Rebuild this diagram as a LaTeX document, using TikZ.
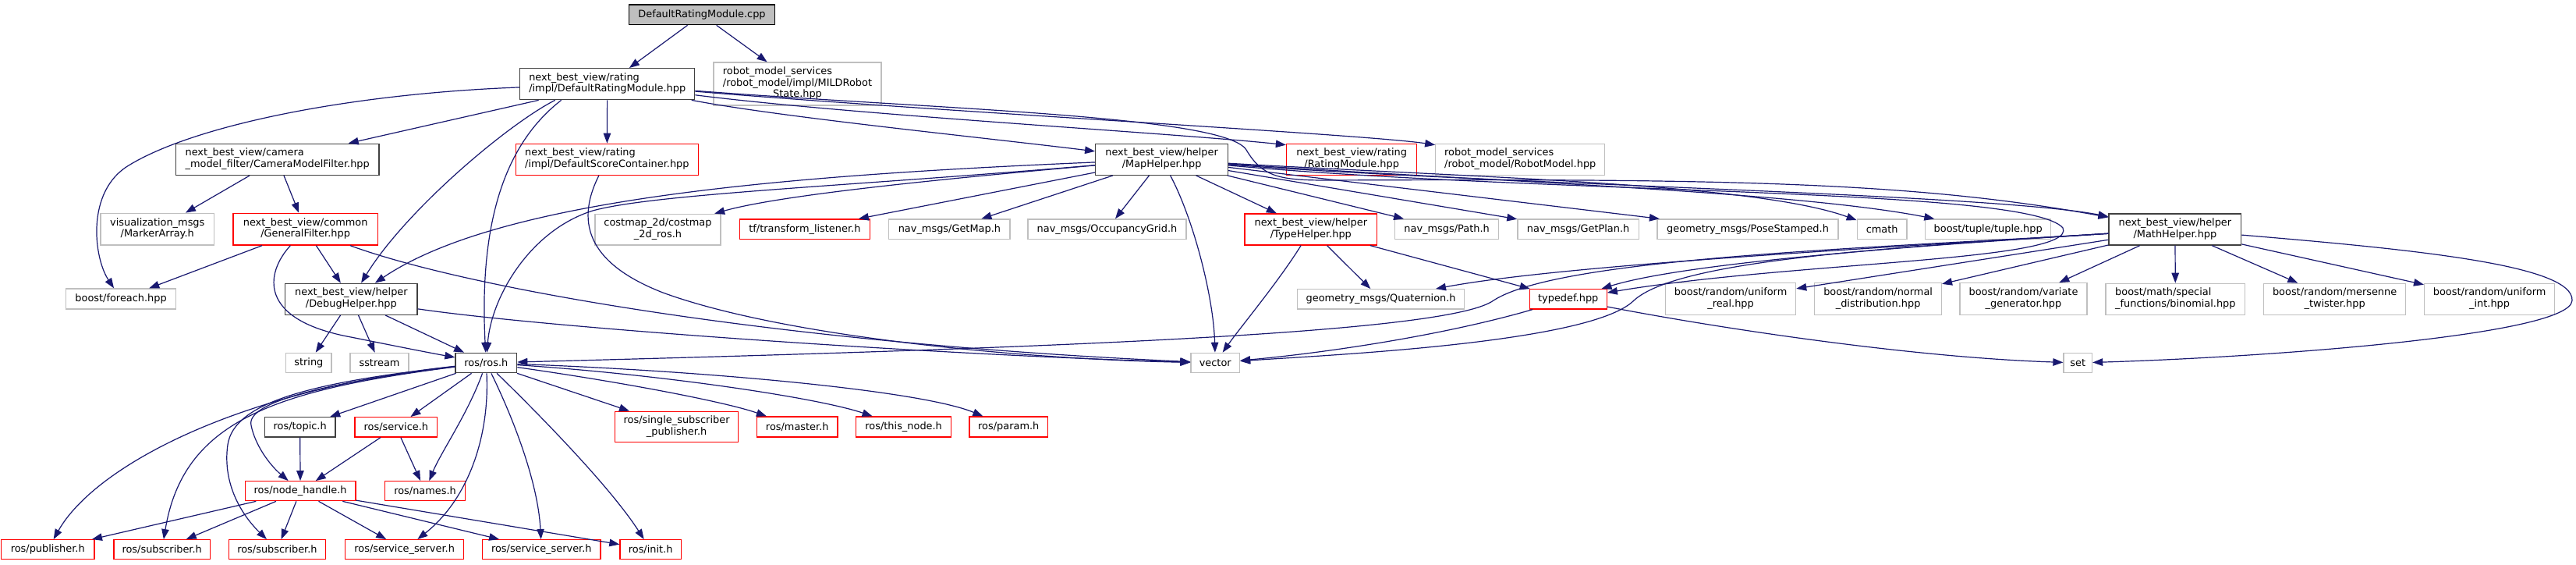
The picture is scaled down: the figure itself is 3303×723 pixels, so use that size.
\documentclass[tikz,border=0pt]{standalone}
\usepackage{fontspec}
\setmainfont{DejaVu Sans}
\usetikzlibrary{arrows.meta}
\definecolor{edgec}{HTML}{191970}
\definecolor{grayb}{HTML}{BFBFBF}
\definecolor{blackb}{HTML}{404040}
\newcommand\ml[2]{\begin{tabular}{@{}l@{}}#1\\\multicolumn{1}{@{}c@{}}{#2}\end{tabular}}
\newcommand\bx[7]{%
 \pgfmathsetmacro\bxcx{(#3+#5)/2}%
 \pgfmathsetmacro\bxcy{(#4+#6)/2}%
 \pgfmathsetmacro\bxw{#5-#3}%
 \pgfmathsetmacro\bxh{#6-#4}%
 \node[#1,minimum width=\bxw pt,minimum height=\bxh pt] (#2) at (\bxcx,\bxcy) {#7};}
\begin{document}
\begin{tikzpicture}[x=1pt,y=-1pt,font=\fontsize{12.9}{14.4}\selectfont,
 box/.style={draw,line width=1.3pt,inner sep=0pt,fill=white},
 kb/.style={box,draw=blackb},
 rb/.style={box,draw=red},
 gb/.style={box,draw=grayb},
 rootb/.style={box,draw=black,fill=grayb},
 dep/.style={draw=edgec,line width=1.2pt,-{Triangle[length=13pt,width=9.5pt]}}]
\useasboundingbox[fill=white] (0,0) rectangle (3303,723);
% nodes
\bx{rootb}{cpp}{806.7}{6}{993.3}{31.7}{DefaultRatingModule.cpp}
\bx{kb}{drm}{666.7}{87.7}{890.7}{127.7}{\ml{next\_best\_view/rating}{/impl/DefaultRatingModule.hpp}}
\bx{gb}{mild}{915}{80}{1130}{135}{\ml{robot\_model\_services\\/robot\_model/impl/MILDRobot}{State.hpp}}
\bx{kb}{cam}{225.4}{184.3}{486}{224.3}{\ml{next\_best\_view/camera}{\_model\_filter/CameraModelFilter.hpp}}
\bx{rb}{dsc}{661.2}{184.3}{895.5}{224.3}{\ml{next\_best\_view/rating}{/impl/DefaultScoreContainer.hpp}}
\bx{kb}{map}{1404.7}{184.3}{1574.5}{224.3}{\ml{next\_best\_view/helper}{/MapHelper.hpp}}
\bx{rb}{rmod}{1649.5}{184.3}{1816.8}{224.3}{\ml{next\_best\_view/rating}{/RatingModule.hpp}}
\bx{gb}{robm}{1840.8}{184.3}{2057.7}{224.3}{\ml{robot\_model\_services}{/robot\_model/RobotModel.hpp}}
\bx{gb}{marker}{129}{273.3}{274.5}{314}{\ml{visualization\_msgs}{/MarkerArray.h}}
\bx{rb}{gf}{299}{273.3}{484.3}{314}{\ml{next\_best\_view/common}{/GeneralFilter.hpp}}
\bx{gb}{costmap}{763}{274.3}{924}{314}{\ml{costmap\_2d/costmap}{\_2d\_ros.h}}
\bx{rb}{tf}{948.2}{281}{1115.6}{306.7}{tf/transform\_listener.h}
\bx{gb}{getmap}{1139.7}{281}{1295.1}{306.7}{nav\_msgs/GetMap.h}
\bx{gb}{occ}{1318}{281}{1520.9}{306.7}{nav\_msgs/OccupancyGrid.h}
\bx{rb}{typeh}{1595.9}{274}{1765.8}{314}{\ml{next\_best\_view/helper}{/TypeHelper.hpp}}
\bx{gb}{path}{1788.8}{281}{1921.4}{306.7}{nav\_msgs/Path.h}
\bx{gb}{getplan}{1945.9}{281}{2101.3}{306.7}{nav\_msgs/GetPlan.h}
\bx{gb}{pose}{2125}{281}{2357.1}{306.7}{geometry\_msgs/PoseStamped.h}
\bx{gb}{cmath}{2381.3}{281}{2445}{306.7}{cmath}
\bx{gb}{tuple}{2468.8}{281}{2629.5}{306.7}{boost/tuple/tuple.hpp}
\bx{kb}{math}{2704.1}{274}{2873.7}{314}{\ml{next\_best\_view/helper}{/MathHelper.hpp}}
\bx{gb}{foreach}{84.8}{370}{225.4}{396}{boost/foreach.hpp}
\bx{kb}{debug}{365.7}{363.3}{535.1}{403.3}{\ml{next\_best\_view/helper}{/DebugHelper.hpp}}
\bx{gb}{quat}{1663.5}{370.7}{1877.8}{396}{geometry\_msgs/Quaternion.h}
\bx{rb}{typedef}{1961.3}{370.7}{2060.2}{396}{typedef.hpp}
\bx{gb}{ureal}{2135.5}{362.7}{2302.6}{403.3}{\ml{boost/random/uniform}{\_real.hpp}}
\bx{gb}{normal}{2326.8}{362.7}{2489.4}{403.3}{\ml{boost/random/normal}{\_distribution.hpp}}
\bx{gb}{variate}{2513}{362.7}{2676}{403.3}{\ml{boost/random/variate}{\_generator.hpp}}
\bx{gb}{binom}{2700}{363.3}{2878.7}{403.3}{\ml{boost/math/special}{\_functions/binomial.hpp}}
\bx{gb}{mersenne}{2902.8}{363.3}{3084.4}{403.3}{\ml{boost/random/mersenne}{\_twister.hpp}}
\bx{gb}{uint}{3108.6}{363.3}{3275.6}{403.3}{\ml{boost/random/uniform}{\_int.hpp}}
\bx{gb}{string}{366.7}{452.3}{425}{477.7}{string}
\bx{gb}{sstream}{449}{452.3}{524}{477.7}{sstream}
\bx{kb}{ros}{584}{452.3}{662.7}{477.7}{ros/ros.h}
\bx{gb}{vector}{1527}{452.3}{1589.5}{477.7}{vector}
\bx{gb}{set}{2646}{452.3}{2682.5}{477.7}{set}
\bx{kb}{topic}{339.3}{534.7}{430}{560}{ros/topic.h}
\bx{rb}{service}{455}{534.7}{560.7}{560}{ros/service.h}
\bx{rb}{ssp}{788.5}{527.3}{946.7}{566.7}{\ml{ros/single\_subscriber}{\_publisher.h}}
\bx{rb}{master}{970.5}{534}{1074}{560}{ros/master.h}
\bx{rb}{thisnode}{1097.8}{534}{1219.5}{560}{ros/this\_node.h}
\bx{rb}{param}{1243}{534}{1343.5}{560}{ros/param.h}
\bx{rb}{nh}{314.3}{616.7}{455.9}{641.7}{ros/node\_handle.h}
\bx{rb}{names}{493.4}{616.7}{596.7}{641.7}{ros/names.h}
\bx{rb}{pub}{1.5}{691.7}{121}{716.7}{ros/publisher.h}
\bx{rb}{sub1}{145.9}{691.7}{269.5}{716.7}{ros/subscriber.h}
\bx{rb}{sub2}{293.3}{691.7}{417.6}{716.7}{ros/subscriber.h}
\bx{rb}{ss1}{442.5}{691.7}{594.8}{716.7}{ros/service\_server.h}
\bx{rb}{ss2}{618.6}{691.7}{770}{716.7}{ros/service\_server.h}
\bx{rb}{init}{795}{691.7}{873.3}{716.7}{ros/init.h}
% edges
\draw[dep] (cpp) -- (drm);
\draw[dep] (cpp) -- (mild);
\draw[dep] ([xshift=-88pt]drm.south) -- (cam);
\draw[dep] (drm) -- (dsc);
\draw[dep] (drm) .. controls (450,120) and (250,160) .. (165,212) .. controls (110,245) and (120,330) .. (foreach);
\draw[dep] ([xshift=-67pt]drm.south) .. controls (650,160) and (520,270) .. (debug);
\draw[dep] ([xshift=-59pt]drm.south) .. controls (640,190) and (615,300) .. (ros);
\draw[dep] (drm) .. controls (1000,150) and (1250,175) .. (map);
\draw[dep] (drm) .. controls (1100,148) and (1500,170) .. ([yshift=-2pt]rmod.north west);
\draw[dep] (drm) .. controls (1200,143) and (1750,172) .. ([yshift=-2pt]robm.north west);
\draw[dep] (drm) .. controls (1200,140) and (1570,148) .. (1598,192) .. controls (1618,226) and (1640,231) .. (1700,231) .. controls (2200,229) and (2450,232) .. (math);
% MapHelper
\draw[dep] (map) .. controls (1000,225) and (640,255) .. (debug);
\draw[dep] (map) .. controls (1100,238) and (840,248) .. (760,270) .. controls (680,295) and (630,380) .. (ros);
\draw[dep] (map) .. controls (1200,230) and (1000,250) .. (costmap);
\draw[dep] (map) -- (tf);
\draw[dep] (map) -- (getmap);
\draw[dep] (map) -- (occ);
\draw[dep] (map) .. controls (1530,280) and (1556,380) .. (vector);
\draw[dep] (map) -- (typeh);
\draw[dep] (map) -- (path);
\draw[dep] (map) -- (getplan);
\draw[dep] (map) -- (pose);
\draw[dep] (map) .. controls (1900,228) and (2250,235) .. (cmath);
\draw[dep] (map) .. controls (1900,232) and (2300,245) .. (tuple);
\draw[dep] (map) .. controls (1900,236) and (2550,248) .. (math);
\draw[dep] (map) .. controls (2000,250) and (2600,240) .. (2645,292) .. controls (2665,335) and (2300,335) .. (typedef);
% camera / general filter
\draw[dep] (cam) -- (marker);
\draw[dep] (cam) -- (gf);
\draw[dep] (gf) -- (foreach);
\draw[dep] (gf) -- (debug);
\draw[dep] (gf) .. controls (340,350) and (330,410) .. (450,432) .. controls (500,442) and (550,452) .. (ros);
\draw[dep] (gf) .. controls (600,370) and (1000,440) .. (vector);
\draw[dep] (dsc) .. controls (735,290) and (760,340) .. (850,375) .. controls (1000,430) and (1300,460) .. (vector);
% debug helper
\draw[dep] (debug) -- (string);
\draw[dep] (debug) -- (sstream);
\draw[dep] (debug) -- (ros);
\draw[dep] (debug) .. controls (700,420) and (1200,455) .. (vector);
% type helper
\draw[dep] (typeh) -- (quat);
\draw[dep] (typeh) -- (typedef);
\draw[dep] (typeh) .. controls (1640,360) and (1590,420) .. (vector);
% math helper
\draw[dep] (math) -- (ureal);
\draw[dep] (math) -- (normal);
\draw[dep] (math) -- (variate);
\draw[dep] (math) -- (binom);
\draw[dep] (math) -- (mersenne);
\draw[dep] (math) -- (uint);
\draw[dep] (math) .. controls (3100,320) and (3300,340) .. (3298,385) .. controls (3296,430) and (2900,458) .. (set);
\draw[dep] (math) .. controls (2400,318) and (2000,330) .. (1915,385) .. controls (1860,425) and (1400,445) .. (ros);
\draw[dep] (math) .. controls (2400,318) and (2150,335) .. (2095,385) .. controls (2040,440) and (1700,455) .. (vector);
\draw[dep] (math) .. controls (2400,318) and (2000,340) .. (quat);
\draw[dep] (math) .. controls (2400,318) and (2150,340) .. (typedef);
% typedef
\draw[dep] (typedef) .. controls (1850,430) and (1700,452) .. (vector);
\draw[dep] (typedef) .. controls (2200,420) and (2450,458) .. (set);
% ros.h
\draw[dep] (ros) -- (topic);
\draw[dep] (ros) -- (service);
\draw[dep] (ros) .. controls (600,530) and (565,580) .. (names);
\draw[dep] (ros) .. controls (420,490) and (315,515) .. (322,545) .. controls (327,570) and (345,595) .. (nh);
\draw[dep] (ros) .. controls (400,490) and (300,515) .. (292,570) .. controls (285,620) and (310,660) .. (sub2);
\draw[dep] (ros) .. controls (350,500) and (235,540) .. (sub1);
\draw[dep] (ros) .. controls (300,500) and (120,600) .. (pub);
\draw[dep] (ros) .. controls (628,560) and (600,640) .. (ss1);
\draw[dep] (ros) .. controls (660,540) and (690,620) .. (ss2);
\draw[dep] (ros) .. controls (680,520) and (780,620) .. (init);
\draw[dep] (ros) -- (ssp);
\draw[dep] (ros) .. controls (800,490) and (930,515) .. (master);
\draw[dep] (ros) .. controls (850,480) and (1050,510) .. (thisnode);
\draw[dep] (ros) .. controls (900,475) and (1180,500) .. (param);
% lower ros
\draw[dep] (topic) -- (nh);
\draw[dep] (service) -- (nh);
\draw[dep] (service) -- (names);
\draw[dep] (nh) -- (pub);
\draw[dep] (nh) -- (sub1);
\draw[dep] (nh) -- (sub2);
\draw[dep] (nh) -- (ss1);
\draw[dep] (nh) -- (ss2);
\draw[dep] (nh) -- (init);
\end{tikzpicture}
\end{document}
